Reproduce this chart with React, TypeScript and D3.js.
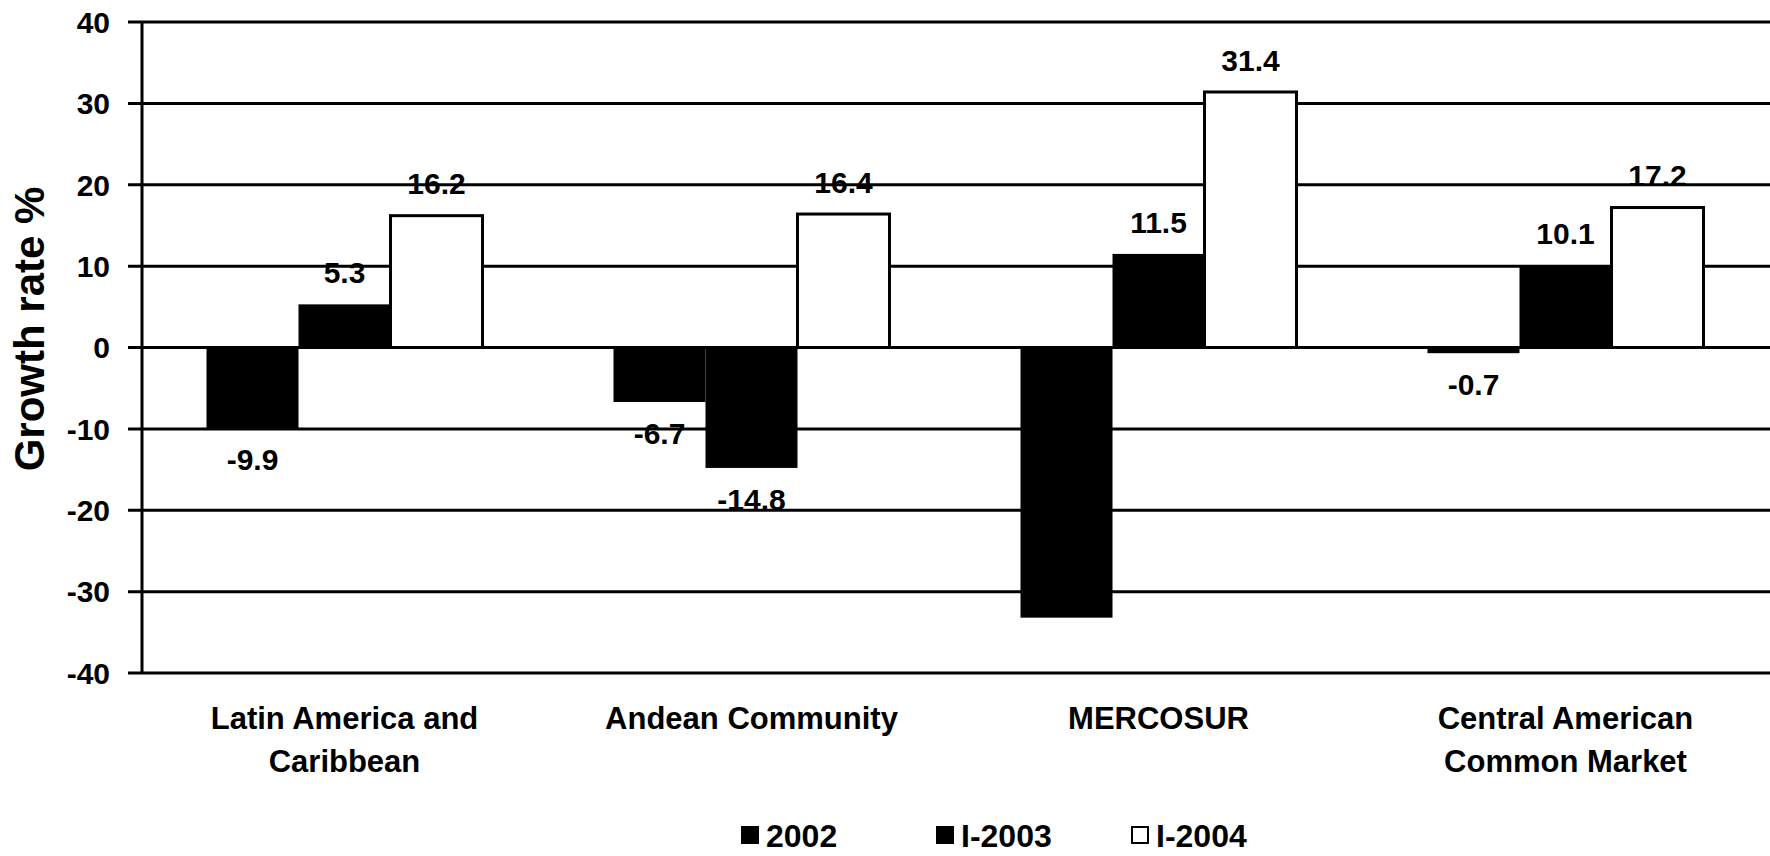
import * as d3 from "d3";

const CATEGORIES = [
  ["Latin America and", "Caribbean"],
  ["Andean Community"],
  ["MERCOSUR"],
  ["Central American", "Common Market"],
];
const SERIES = ["2002", "I-2003", "I-2004"];
const VALUES_2002 = [-9.9, -6.7, -33.2, -0.7];
const VALUES_2003 = [5.3, -14.8, 11.5, 10.1];
const VALUES_2004 = [16.2, 16.4, 31.4, 17.2];
// MERCOSUR 2002 carries no label in the original
const LABELS_2002 = ["-9.9", "-6.7", null, "-0.7"];
const LABELS_2003 = ["5.3", "-14.8", "11.5", "10.1"];
const LABELS_2004 = ["16.2", "16.4", "31.4", "17.2"];
const Y_TICKS = [40, 30, 20, 10, 0, -10, -20, -30, -40];

const W = 1770;
const H = 856;
const FONT = "'Liberation Sans', Arial, Helvetica, sans-serif";
const FILLS = ["#000", "#000", "#fff"];

export default function App() {
  const plot = { left: 141, right: 1769, top: 22, bottom: 673 };
  const y = d3.scaleLinear().domain([-40, 40]).range([plot.bottom, plot.top]);
  const x0 = d3
    .scaleBand<number>()
    .domain(CATEGORIES.map((_, i) => i))
    .range([plot.left, plot.right]);
  const pad = (x0.bandwidth() - 276) / 2;
  const x1 = d3
    .scaleBand<string>()
    .domain(SERIES)
    .range([pad, x0.bandwidth() - pad]);

  const values = [VALUES_2002, VALUES_2003, VALUES_2004];
  const labels = [LABELS_2002, LABELS_2003, LABELS_2004];

  const bars = SERIES.flatMap((s, si) =>
    CATEGORIES.map((_, ci) => {
      const v = values[si][ci];
      const bx = (x0(ci) ?? 0) + (x1(s) ?? 0);
      const y0 = y(0);
      const yv = y(v);
      return {
        key: `${s}-${ci}`,
        si,
        x: bx,
        w: x1.bandwidth(),
        top: Math.min(y0, yv),
        h: Math.max(Math.abs(yv - y0), 5),
        v,
        label: labels[si][ci],
      };
    }),
  );

  const legendX0 = 741;
  const legendStep = 195;
  const legendY = 835;

  return (
    <svg
      width={W}
      height={H}
      style={{ position: "absolute", left: 0, top: 0, background: "#fff" }}
      fontFamily={FONT}
      fontWeight="bold"
    >
      <rect width={W} height={H} fill="#fff" />
      {/* gridlines + outward ticks */}
      {Y_TICKS.map((t) => (
        <line
          key={t}
          x1={plot.left - 13}
          x2={W}
          y1={y(t)}
          y2={y(t)}
          stroke="#000"
          strokeWidth={3}
        />
      ))}
      {Y_TICKS.map((t) => (
        <text
          key={`l${t}`}
          x={110}
          y={y(t)}
          dy="0.36em"
          textAnchor="end"
          fontSize={30}
          fill="#000"
        >
          {t}
        </text>
      ))}
      <line
        x1={plot.left + 1}
        x2={plot.left + 1}
        y1={plot.top}
        y2={plot.bottom}
        stroke="#000"
        strokeWidth={3}
      />
      {/* bars */}
      {bars.map((b) => (
        <rect
          key={b.key}
          x={b.x}
          y={b.top}
          width={b.w}
          height={b.h}
          fill={FILLS[b.si]}
          stroke="#000"
          strokeWidth={b.si === 2 ? 3 : 0}
        />
      ))}
      {/* value labels */}
      {bars
        .filter((b) => b.label)
        .map((b) => (
          <text
            key={`v${b.key}`}
            x={b.x + b.w / 2}
            y={b.v >= 0 ? y(b.v) - 32 : y(b.v) + 31}
            dy="0.36em"
            textAnchor="middle"
            fontSize={30}
            fill="#000"
          >
            {b.label}
          </text>
        ))}
      {/* category labels */}
      {CATEGORIES.map((lines, ci) => (
        <text
          key={`c${ci}`}
          x={(x0(ci) ?? 0) + x0.bandwidth() / 2}
          y={718}
          textAnchor="middle"
          fontSize={31}
          fill="#000"
        >
          {lines.map((ln, li) => (
            <tspan
              key={li}
              x={(x0(ci) ?? 0) + x0.bandwidth() / 2}
              dy={li === 0 ? "0.36em" : 43}
            >
              {ln}
            </tspan>
          ))}
        </text>
      ))}
      {/* y title */}
      <text
        transform={`translate(29,329) rotate(-90)`}
        textAnchor="middle"
        dy="0.36em"
        fontSize={42}
        fill="#000"
      >
        Growth rate %
      </text>
      {/* legend */}
      {SERIES.map((s, si) => (
        <g key={`lg${s}`} transform={`translate(${legendX0 + si * legendStep},${legendY})`}>
          <rect
            x={si === 2 ? 1 : 0}
            y={si === 2 ? -8 : -9}
            width={si === 2 ? 16 : 18}
            height={si === 2 ? 16 : 18}
            fill={FILLS[si]}
            stroke="#000"
            strokeWidth={si === 2 ? 2 : 0}
          />
          <text x={25} dy="0.36em" fontSize={32} fill="#000">
            {s}
          </text>
        </g>
      ))}
    </svg>
  );
}
